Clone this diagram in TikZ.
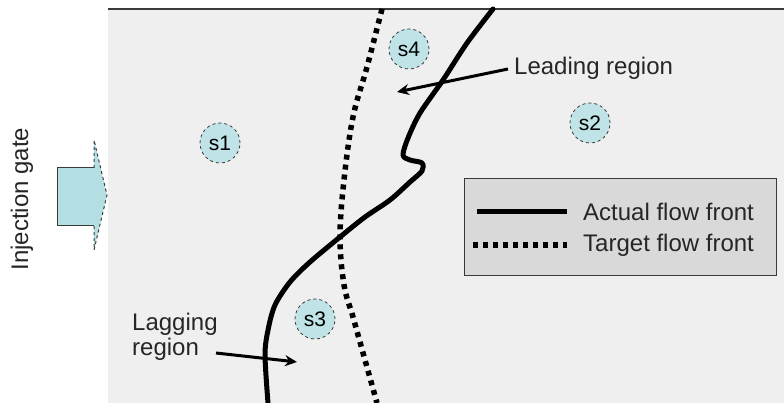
\documentclass[tikz,border=0pt]{standalone}
\usepackage{fontspec}
\setmainfont{Liberation Sans}
\usetikzlibrary{arrows.meta}
\definecolor{panelgray}{HTML}{EFEFEF}
\definecolor{sensorfill}{HTML}{BFE3E6}
\definecolor{gatefill}{HTML}{B3DEE2}
\definecolor{legendfill}{HTML}{D9D9D9}
\definecolor{edgegray}{HTML}{3A3A3A}
\tikzset{
  sensor/.style={circle,minimum size=40pt,inner sep=0pt,fill=sensorfill,draw=edgegray,dashed,line width=0.8pt,font=\fontsize{21}{23}\selectfont},
  label24/.style={font=\fontsize{24}{26}\selectfont,inner sep=0pt,text=black!85},
  actual/.style={line width=5pt,black,line cap=round,line join=round},
  target/.style={line width=5.5pt,black,dash pattern=on 5pt off 5pt},
  pointer/.style={line width=3pt,black,-{Stealth[length=12pt,width=11pt]}}
}
\begin{document}
\begin{tikzpicture}[x=1pt,y=-1pt]
\useasboundingbox (0,0) rectangle (784,403);
\fill[white] (0,0) rectangle (784,403);
% panel
\fill[panelgray] (108,9) rectangle (784,403);
\draw[line width=1.6pt,edgegray] (108,9) -- (784,9);
% injection gate arrow
\fill[gatefill] (57,168) -- (94,168) -- (94,140) -- (107,195) -- (94,250) -- (94,226) -- (57,226) -- cycle;
\draw[edgegray,line width=1pt] (94,168) -- (57,168) -- (57,226) -- (94,226);
\draw[edgegray,line width=1pt,dashed] (94,168) -- (94,140) -- (107,195) -- (94,250) -- (94,226);
\node[label24,rotate=90] (gate) at (22,199) {Injection gate};
% sensors
\node[sensor] (s1) at (220,143) {s1};
\node[sensor] (s4) at (409,49) {s4};
\node[sensor] (s2) at (590,123) {s2};
\node[sensor] (s3) at (315,319) {s3};
% target flow front
\draw[target] plot[smooth,tension=0.6] coordinates {(382,9) (367,67) (353,117) (344,180) (340,237) (344,285) (353,317) (365,360) (377,403)};
% actual flow front
\draw[actual] plot[smooth,tension=0.5] coordinates {(493,9) (467,43) (443,80) (420,113) (408,138) (403,155) (410,160) (422,163) (422,171) (410,182) (390,200) (365,217) (340,237) (310,262) (290,282) (275,305) (268,330) (265,355) (268,403)};
% leading region
\node[label24,anchor=west] (lead) at (514,68) {Leading region};
\coordinate (leadtip) at (397,92);
\draw[pointer] ([xshift=-6pt,yshift=-1pt]lead.west) -- (leadtip);
% lagging region
\node[label24,anchor=west,align=left] (lag) at (132,337) {Lagging\\[-1pt]region};
\coordinate (lagstart) at (216,353);
\coordinate (lagtip) at (297,362);
\draw[pointer] (lagstart) -- (lagtip);
% legend
\node[draw=edgegray,line width=1pt,fill=legendfill,minimum width=312pt,minimum height=97pt,anchor=north west,inner sep=0pt] (legend) at (464,178) {};
\coordinate (la1) at (477,212);
\coordinate (la2) at (567,212);
\coordinate (lt1) at (473,245);
\coordinate (lt2) at (567,245);
\draw[line width=5pt,black] (la1) -- (la2);
\draw[target] (lt1) -- (lt2);
\node[label24,anchor=west] (actualtext) at (583,212) {Actual flow front};
\node[label24,anchor=west] (targettext) at (583,245) {Target flow front};
\end{tikzpicture}
\end{document}
